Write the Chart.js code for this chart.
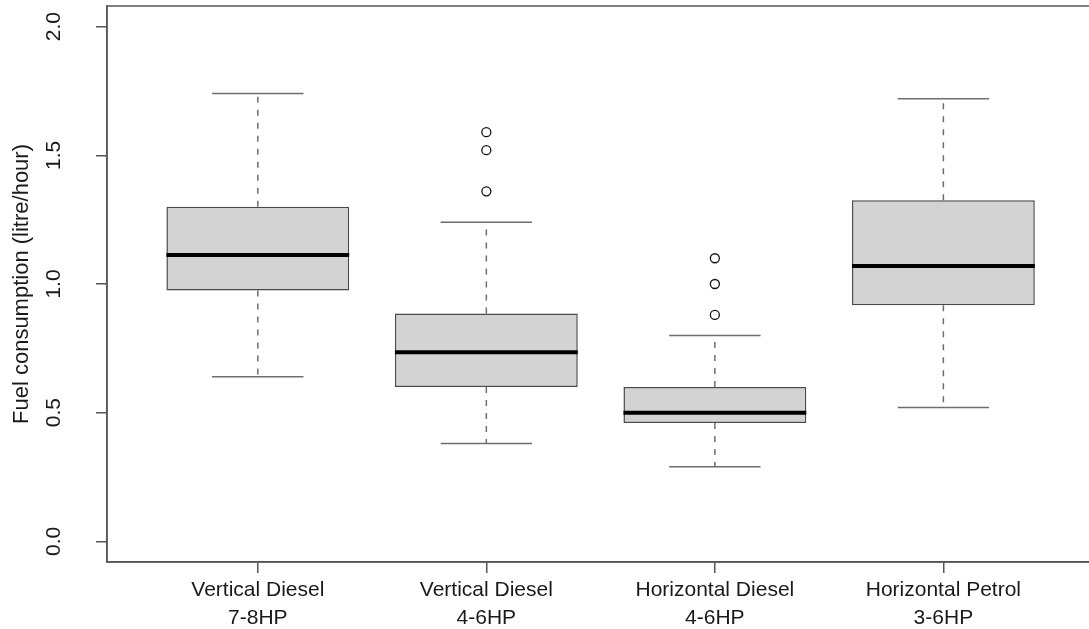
<!DOCTYPE html>
<html>
<head>
<meta charset="utf-8">
<script src="https://cdn.jsdelivr.net/npm/chart.js@4.4.1/dist/chart.umd.min.js"></script>
<style>
  html, body { margin: 0; padding: 0; background: #ffffff; overflow: hidden; }
  #wrap { position: relative; width: 1100px; height: 629px; }
</style>
</head>
<body>
<div id="wrap"><canvas id="c"></canvas></div>
<script>
// ---- data ----
const categories = [
  ['Vertical Diesel', '7-8HP'],
  ['Vertical Diesel', '4-6HP'],
  ['Horizontal Diesel', '4-6HP'],
  ['Horizontal Petrol', '3-6HP']
];
const whiskerLow  = [0.64, 0.38, 0.29, 0.52];
const quartile1   = [0.975, 0.60, 0.46, 0.917];
const medians     = [1.113, 0.735, 0.50, 1.07];
const quartile3   = [1.30, 0.885, 0.60, 1.325];
const whiskerHigh = [1.74, 1.24, 0.80, 1.72];
const outliers    = [[], [1.36, 1.52, 1.59], [0.88, 1.00, 1.10], []];
const yTicks      = [0, 0.5, 1, 1.5, 2];
const yTickLabels = ['0.0', '0.5', '1.0', '1.5', '2.0'];
const yTitle      = 'Fuel consumption (litre/hour)';

const FONT = "'Liberation Sans', Arial, Helvetica, sans-serif";
const TEXT = '#1a1a1a';
const BOX_HALF = 0.4, CAP_HALF = 0.2;

const boxData = categories.map((c, i) => ({ x: i + 1, y: [quartile1[i], quartile3[i]] }));
const outlierData = [];
outliers.forEach((arr, i) => arr.forEach(v => outlierData.push({ x: i + 1, y: v })));

const boxPlugin = {
  id: 'boxparts',
  beforeDatasetsDraw(chart) {
    const { ctx, scales: { x, y } } = chart;
    ctx.save();
    ctx.strokeStyle = '#6e6e6e';
    ctx.lineWidth = 1.5;
    categories.forEach((c, i) => {
      const cx = x.getPixelForValue(i + 1);
      const l = x.getPixelForValue(i + 1 - CAP_HALF);
      const r = x.getPixelForValue(i + 1 + CAP_HALF);
      ctx.setLineDash([6, 7]);
      ctx.beginPath();
      ctx.moveTo(cx, y.getPixelForValue(quartile3[i]));
      ctx.lineTo(cx, y.getPixelForValue(whiskerHigh[i]));
      ctx.moveTo(cx, y.getPixelForValue(quartile1[i]));
      ctx.lineTo(cx, y.getPixelForValue(whiskerLow[i]));
      ctx.stroke();
      ctx.setLineDash([]);
      ctx.beginPath();
      ctx.moveTo(l, y.getPixelForValue(whiskerHigh[i]));
      ctx.lineTo(r, y.getPixelForValue(whiskerHigh[i]));
      ctx.moveTo(l, y.getPixelForValue(whiskerLow[i]));
      ctx.lineTo(r, y.getPixelForValue(whiskerLow[i]));
      ctx.stroke();
    });
    ctx.restore();
  },
  afterDatasetsDraw(chart) {
    const { ctx, scales: { x, y }, chartArea } = chart;
    ctx.save();
    ctx.strokeStyle = '#000000';
    ctx.lineWidth = 4;
    categories.forEach((c, i) => {
      const l = x.getPixelForValue(i + 1 - BOX_HALF);
      const r = x.getPixelForValue(i + 1 + BOX_HALF);
      const py = y.getPixelForValue(medians[i]);
      ctx.beginPath();
      ctx.moveTo(l, py);
      ctx.lineTo(r, py);
      ctx.stroke();
    });
    // plot frame
    ctx.strokeStyle = '#555555';
    ctx.lineWidth = 1.5;
    ctx.strokeRect(chartArea.left, chartArea.top, chartArea.right - chartArea.left, chartArea.bottom - chartArea.top);
    // rotated y tick labels
    ctx.fillStyle = TEXT;
    ctx.font = '21px ' + FONT;
    ctx.textAlign = 'center';
    ctx.textBaseline = 'middle';
    yTicks.forEach((v, i) => {
      const py = y.getPixelForValue(v);
      ctx.save();
      ctx.translate(54, py);
      ctx.rotate(-Math.PI / 2);
      ctx.fillText(yTickLabels[i], 0, 0);
      ctx.restore();
    });
    ctx.restore();
  }
};

new Chart(document.getElementById('c'), {
  type: 'bar',
  data: {
    datasets: [
      {
        type: 'bar',
        data: boxData,
        backgroundColor: '#d3d3d3',
        borderColor: '#4a4a4a',
        borderWidth: 1.5,
        borderSkipped: false,
        categoryPercentage: 1.0,
        barPercentage: 0.8,
        order: 2
      },
      {
        type: 'scatter',
        data: outlierData,
        pointStyle: 'circle',
        pointRadius: 4.5,
        pointBackgroundColor: '#ffffff',
        pointBorderColor: '#111111',
        pointBorderWidth: 1.3,
        showLine: false,
        order: 1
      }
    ]
  },
  options: {
    responsive: true,
    maintainAspectRatio: false,
    animation: false,
    devicePixelRatio: 1,
    layout: { padding: { left: 0, top: 6, right: 4, bottom: 0 } },
    plugins: { legend: { display: false }, tooltip: { enabled: false } },
    scales: {
      x: {
        type: 'linear',
        min: 0.34,
        max: 4.66,
        offset: false,
        afterBuildTicks: (s) => { s.ticks = categories.map((c, i) => ({ value: i + 1 })); },
        afterFit: (s) => { s.height = 67; },
        grid: { display: true, drawOnChartArea: false, drawTicks: true, tickLength: 11, color: '#555555', lineWidth: 1.5, offset: false },
        border: { display: true, color: '#555555', width: 1.5 },
        ticks: {
          autoSkip: false,
          maxRotation: 0,
          minRotation: 0,
          padding: 4,
          color: TEXT,
          font: { family: FONT, size: 21, lineHeight: 1.3 },
          callback: (v) => categories[Math.round(v) - 1]
        }
      },
      y: {
        type: 'linear',
        min: -0.08,
        max: 2.08,
        afterBuildTicks: (s) => { s.ticks = yTicks.map(v => ({ value: v })); },
        afterFit: (s) => { s.width = 107; },
        grid: { display: true, drawOnChartArea: false, drawTicks: true, tickLength: 11, color: '#555555', lineWidth: 1.5 },
        border: { display: true, color: '#555555', width: 1.5 },
        ticks: { display: false },
        title: {
          display: true,
          text: yTitle,
          color: TEXT,
          font: { family: FONT, size: 22 },
          padding: { top: 9, bottom: 0 }
        }
      }
    }
  },
  plugins: [boxPlugin]
});
</script>
</body>
</html>
